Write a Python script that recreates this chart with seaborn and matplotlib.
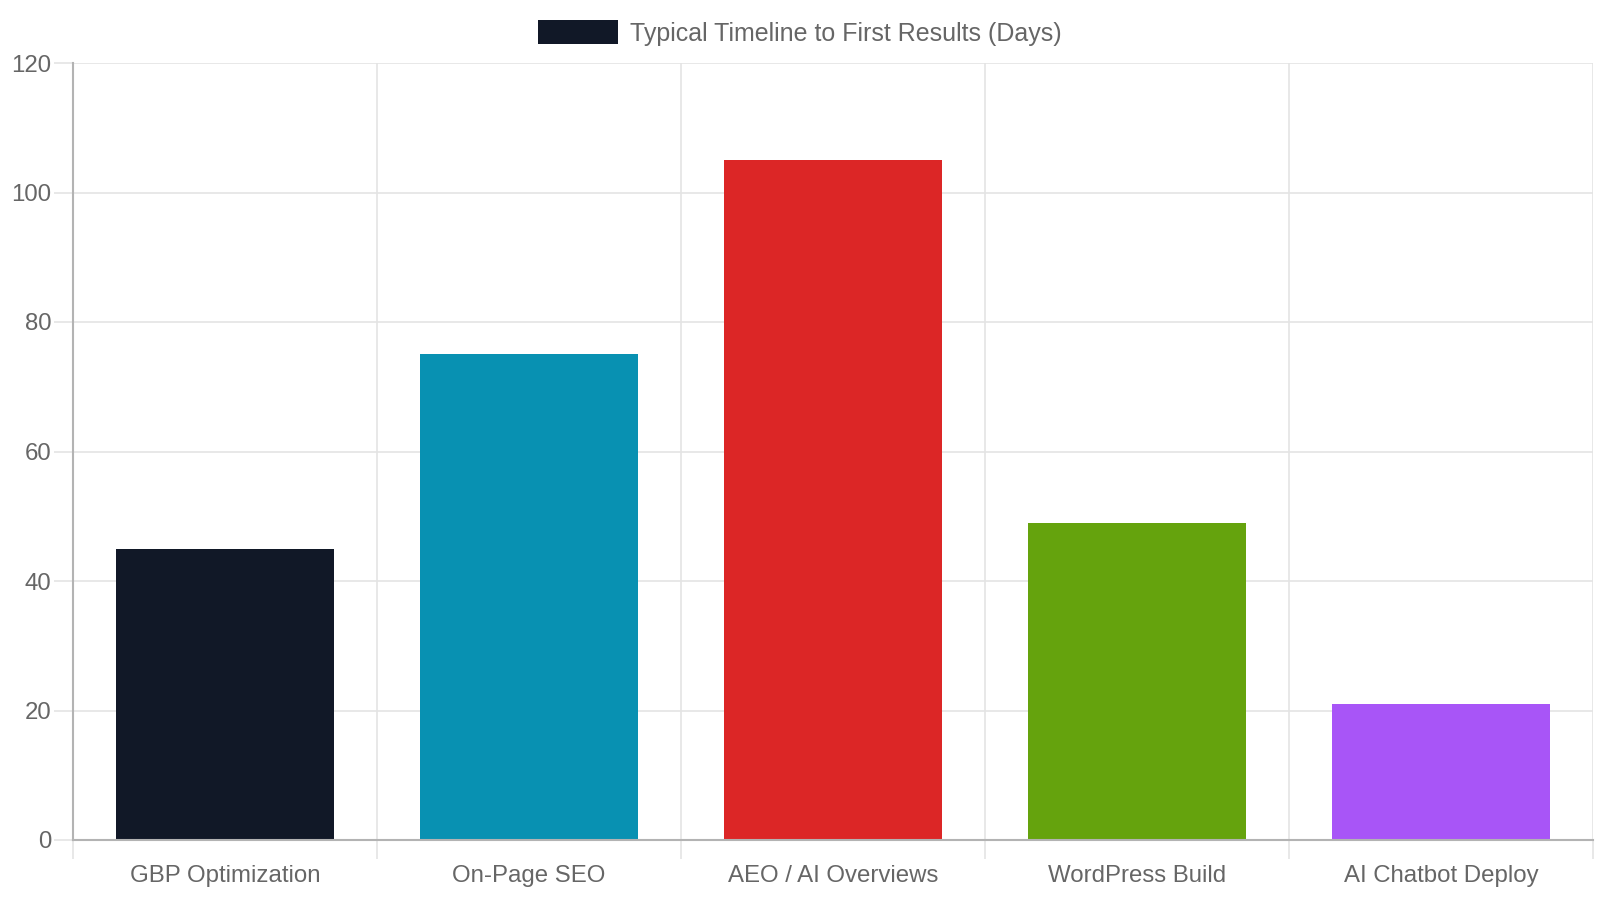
import matplotlib
matplotlib.use("Agg")
import matplotlib.pyplot as plt
import numpy as np
import pandas as pd
import seaborn as sns
from matplotlib.patches import Patch

services = ["GBP Optimization", "On-Page SEO", "AEO / AI Overviews",
            "WordPress Build", "AI Chatbot Deploy"]
days = [45, 75, 105, 49, 21]
bar_colors = ["#111827", "#0891b2", "#dc2626", "#65a30d", "#a855f7"]
series_label = "Typical Timeline to First Results (Days)"
y_ticks = [0, 20, 40, 60, 80, 100, 120]

df = pd.DataFrame({"service": services, "days": days})

sns.set_style("white")
plt.rcParams["font.family"] = ["Liberation Sans", "DejaVu Sans"]

grid_c = "#e4e4e4"
axis_c = "#b3b3b3"
text_c = "#666666"

fig = plt.figure(figsize=(16, 9), dpi=100)
ax = fig.add_axes([73 / 1600, 60 / 900, 1520 / 1600, 777 / 900])

sns.barplot(data=df, x="service", y="days", hue="service", palette=bar_colors,
            saturation=1, width=0.72, legend=False, ax=ax, zorder=3,
            linewidth=0)

ax.set_xlim(-0.5, len(services) - 0.5)
ax.set_ylim(0, 120)
ax.set_yticks(y_ticks)
ax.set_xlabel("")
ax.set_ylabel("")

# vertical grid lines sit between categories
ax.set_xticks(np.arange(-0.5, len(services), 1.0), minor=True)
ax.grid(True, which="minor", axis="x", color=grid_c, lw=1.2, zorder=0)
ax.grid(True, which="major", axis="y", color=grid_c, lw=1.2, zorder=0)
ax.grid(False, which="major", axis="x")

ax.tick_params(axis="x", which="major", bottom=False, length=0, pad=18,
               labelsize=17.3, labelcolor=text_c)
ax.tick_params(axis="x", which="minor", bottom=True, length=14, width=1.2,
               color=grid_c)
ax.tick_params(axis="y", left=True, length=14, width=1.2, color=grid_c, pad=1.5,
               labelsize=17.3, labelcolor=text_c)

for side in ["top", "right"]:
    ax.spines[side].set_visible(False)
for side in ["left", "bottom"]:
    ax.spines[side].set_color(axis_c)
    ax.spines[side].set_linewidth(1.5)
    ax.spines[side].set_zorder(4)

handle = Patch(facecolor=bar_colors[0], edgecolor="none", label=series_label)
fig.legend(handles=[handle], loc="center", bbox_to_anchor=(0.5, 1 - 33 / 900),
           frameon=False, fontsize=18, labelcolor=text_c,
           handlelength=3.2, handleheight=1.1, handletextpad=0.5)

fig.savefig("out.png", dpi=100)
